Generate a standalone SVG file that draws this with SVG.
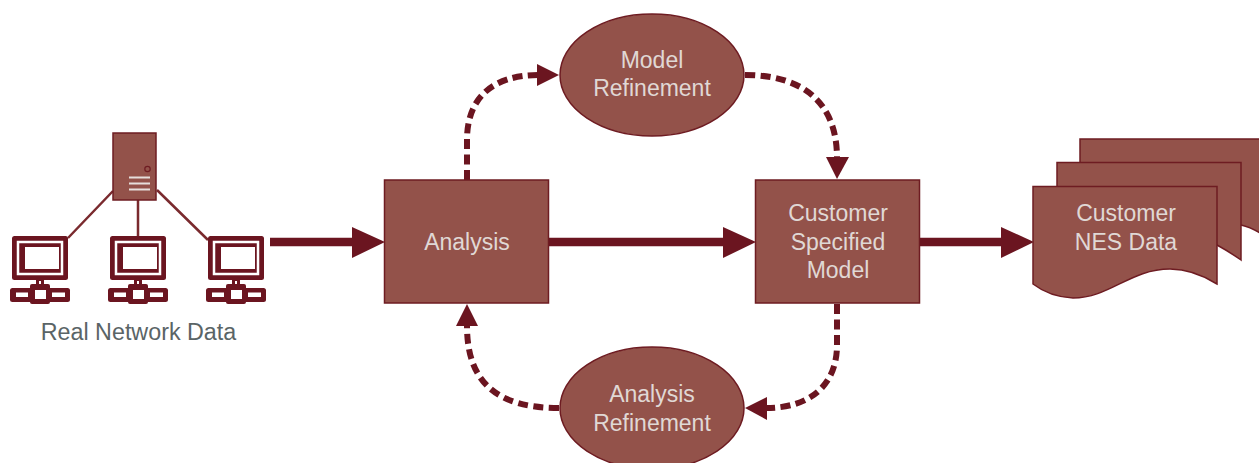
<svg xmlns="http://www.w3.org/2000/svg" width="1259" height="463" viewBox="0 0 1259 463">
<style>
.s{fill:#93524a;stroke:#6e1c22;stroke-width:1.5}
.t{font-family:"Liberation Sans",Arial,sans-serif;font-size:23px;fill:#e0d8d5;text-anchor:middle}
.d{fill:none;stroke:#6b1520;stroke-width:6;stroke-dasharray:10 5.500}
.m{fill:none;stroke:#6b1520;stroke-width:8.500}
.h{fill:#6b1520}
.l{fill:none;stroke:#7a2a2e;stroke-width:2.500}
.w{fill:none;stroke:#e6dedb;stroke-width:2}
</style>
<defs>
<g id="pc">
<rect x="12" y="236" width="56" height="44" rx="2.500" fill="#6b1520"/>
<rect x="18" y="242" width="44" height="32" fill="none" stroke="#fff" stroke-width="2.500"/>
<rect x="25" y="247" width="34" height="22" fill="#fff"/>
<rect x="36" y="280" width="8" height="9" fill="#6b1520"/>
<rect x="39" y="281" width="2" height="6" fill="#fff"/>
<rect x="10" y="288" width="60" height="14" rx="2.500" fill="#6b1520"/>
<rect x="30" y="284" width="20" height="20" rx="2" fill="#6b1520"/>
<rect x="35" y="290" width="11" height="9" fill="#fff"/>
<rect x="16" y="292.500" width="12" height="4.500" fill="#fff"/>
<rect x="52" y="292.500" width="13" height="4.500" fill="#fff"/>
</g>
</defs>
<g id="connectors">
<path class="l" d="M113 191 68 238M138 200V237M157 190 208 240"/>
<path class="m" d="M270 242H354"/><path class="h" d="M352 227 385 242 352 258Z"/>
<path class="m" d="M549 242H725"/><path class="h" d="M723 227 756 242 723 258Z"/>
<path class="m" d="M919 242H1003"/><path class="h" d="M1001 227 1034 242 1001 258Z"/>
<path class="d" d="M467 180V140C467 100 490 75 539 75"/><path class="h" d="M537 64 559 75 537 86Z"/>
<path class="d" d="M745 75C800 75 837 100 837 158"/><path class="h" d="M826 157 849 157 837 179Z"/>
<path class="d" d="M837 304V345C837 385 810 408 766 408"/><path class="h" d="M767 397 745 408 767 420Z"/>
<path class="d" d="M559 408C500 408 467 385 467 326"/><path class="h" d="M456 326 478 326 467 304Z"/>
</g>
<g id="server">
<rect class="s" x="113" y="133" width="43" height="67"/>
<circle cx="147.500" cy="169" r="2.700" fill="none" stroke="#6e1c22" stroke-width="1.200"/>
<path class="w" d="M129 177.500h21M129 183.500h21M129 189.500h21"/>
</g>
<g id="pc1"><use href="#pc"/></g>
<g id="pc2"><use href="#pc" x="98"/></g>
<g id="pc3"><use href="#pc" x="196"/></g>
<g id="label-real"><text x="138.500" y="340" font-family="'Liberation Sans',Arial,sans-serif" font-size="23.300" fill="#5a6466" text-anchor="middle">Real Network Data</text></g>
<g id="analysis">
<rect class="s" x="384.500" y="180" width="164" height="123"/>
<text class="t" x="467" y="250">Analysis</text>
</g>
<g id="model-refinement">
<ellipse class="s" cx="652" cy="75" rx="92" ry="61"/>
<text class="t" x="652" y="68">Model</text><text class="t" x="652" y="96">Refinement</text>
</g>
<g id="customer-model">
<rect class="s" x="755.500" y="180" width="164" height="123"/>
<text class="t" x="838" y="221">Customer</text><text class="t" x="838" y="250">Specified</text><text class="t" x="838" y="278">Model</text>
</g>
<g id="analysis-refinement">
<ellipse class="s" cx="652" cy="408" rx="92" ry="61"/>
<text class="t" x="652" y="402">Analysis</text><text class="t" x="652" y="431">Refinement</text>
</g>
<g id="customer-data">
<path class="s" d="M1080 139H1260V233Q1250 227 1241 225H1080Z"/>
<path class="s" d="M1057 162.500H1241V260Q1228 251 1217 245H1057Z"/>
<path class="s" d="M1033 186.500H1217V284Q1193 269 1170 269C1130 269 1110 298 1073 298Q1050 297 1033 284Z"/>
<text class="t" x="1126" y="221">Customer</text><text class="t" x="1126" y="250">NES Data</text>
</g>
</svg>
